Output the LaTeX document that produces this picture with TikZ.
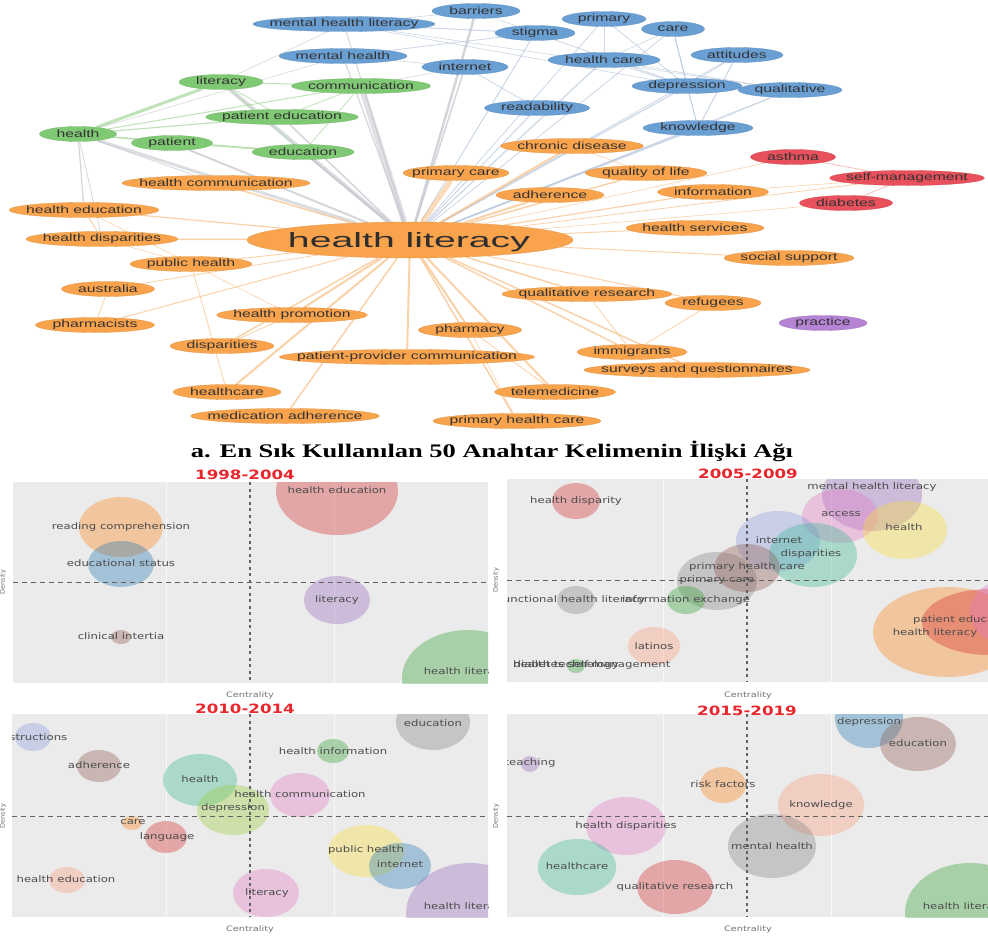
\documentclass[tikz,border=0pt]{standalone}
\usepackage{fontspec}
\usepackage{graphicx}
\usetikzlibrary{shapes.geometric}
\newfontfamily\netfont[FakeStretch=1.5]{Liberation Sans}
\newfontfamily\hlfont{Liberation Sans}
\newfontfamily\bubfont[FakeStretch=1.3]{DejaVu Sans}
\newfontfamily\axrfont{DejaVu Sans}
\newfontfamily\ttlfont[FakeStretch=1.38]{Liberation Serif}
\pgfdeclarelayer{bg}
\pgfsetlayers{bg,main}
\definecolor{nblue}{HTML}{6A9FD4}
\definecolor{ngreen}{HTML}{80C974}
\definecolor{norange}{HTML}{F9A34C}
\definecolor{nred}{HTML}{E8505B}
\definecolor{npurple}{HTML}{B583D3}
\definecolor{egray}{HTML}{B9BCC4}
\definecolor{eblue}{HTML}{A9BCD6}
\definecolor{eorange}{HTML}{F8BF86}
\definecolor{egreen}{HTML}{A6D69A}
\definecolor{ered}{HTML}{F0A0A0}
\definecolor{panelbg}{HTML}{EBEBEB}
\definecolor{tred}{HTML}{D62728}
\definecolor{torange}{HTML}{FF7F0E}
\definecolor{tblue}{HTML}{1F77B4}
\definecolor{tpurple}{HTML}{9467BD}
\definecolor{tgreen}{HTML}{2CA02C}
\definecolor{tbrown}{HTML}{8C564B}
\definecolor{tpink}{HTML}{E377C2}
\definecolor{tgray}{HTML}{7F7F7F}
\definecolor{tyellow}{HTML}{FFDD33}
\definecolor{tmint}{HTML}{33B893}
\definecolor{tlav}{HTML}{8899DD}
\definecolor{tsalmon}{HTML}{FF9977}
\definecolor{tlime}{HTML}{99CC33}
\definecolor{yearred}{HTML}{E8262B}
\tikzset{
  kw/.style={ellipse, inner sep=0pt, minimum height=15pt, line width=.3pt},
  kwt/.style={font=\netfont\fontsize{10.5}{12}\selectfont, text=black!80, inner sep=0pt},
  eg/.style={draw=egray, draw opacity=.6},
  eb/.style={draw=eblue, draw opacity=.6},
  eo/.style={draw=eorange, draw opacity=.7},
  egr/.style={draw=egreen, draw opacity=.7},
  er/.style={draw=ered, draw opacity=.7},
  bt/.style={font=\bubfont\fontsize{9}{10}\selectfont, text=black!70, inner sep=0pt},
  axl/.style={font=\bubfont\fontsize{7.5}{9}\selectfont, text=black!55, inner sep=0pt},
  axr/.style={font=\axrfont\fontsize{6.5}{8}\selectfont, text=black!55, inner sep=0pt, rotate=90},
  yr/.style={font=\bubfont\bfseries\fontsize{12.8}{15}\selectfont, text=yearred, inner sep=0pt},
  dsh/.style={draw=black!62, line width=.9pt, dash pattern=on 5pt off 4pt},
  dshv/.style={draw=black!62, line width=1.1pt, dash pattern=on 3pt off 3.5pt},
  grd/.style={draw=white, line width=.8pt, draw opacity=.7},
}
\newcommand\kw[6]{\node[kw, fill=#5, draw=#5!90!black, minimum width=#4pt] (#1) at (#2,#3) {};
  \node[kwt] (#1t) at (#2,#3) {#6};}
\newcommand\bub[5]{\fill[#5, fill opacity=.35] (#1,#2) ellipse [x radius=#3pt, y radius=#4pt];}
\begin{document}
\begin{tikzpicture}[x=1pt,y=-1pt]
\useasboundingbox (0,0) rectangle (988,937);
% ---------------- network nodes ----------------
\kw{mhl}{344}{24}{182}{nblue}{mental health literacy}
\kw{bar}{476}{11}{88}{nblue}{barriers}
\kw{stig}{535}{33}{80}{nblue}{stigma}
\kw{prim}{604}{19}{84}{nblue}{primary}
\kw{care}{673}{29}{63}{nblue}{care}
\kw{mh}{343}{56}{128}{nblue}{mental health}
\kw{inet}{465}{67}{86}{nblue}{internet}
\kw{hcare}{604}{60}{112}{nblue}{health care}
\kw{att}{737}{55}{92}{nblue}{attitudes}
\kw{dep}{687}{86}{110}{nblue}{depression}
\kw{qual}{790}{90}{104}{nblue}{qualitative}
\kw{read}{537}{108}{105}{nblue}{readability}
\kw{know}{698}{128}{110}{nblue}{knowledge}
\kw{lit}{221}{82}{84}{ngreen}{literacy}
\kw{comm}{361}{86}{139}{ngreen}{communication}
\kw{pated}{282}{117}{153}{ngreen}{patient education}
\kw{hlth}{78}{134}{77}{ngreen}{health}
\kw{pat}{172}{143}{81}{ngreen}{patient}
\kw{edu}{303}{152}{102}{ngreen}{education}
\kw{pc}{456}{173}{106}{norange}{primary care}
\kw{hcom}{216}{183}{188}{norange}{health communication}
\kw{hed}{84}{210}{150}{norange}{health education}
\kw{chd}{572}{146}{143}{norange}{chronic disease}
\kw{qol}{646}{173}{122}{norange}{quality of life}
\kw{adh}{550}{195}{108}{norange}{adherence}
\kw{info}{713}{192}{111}{norange}{information}
\kw{hdis}{102}{239}{152}{norange}{health disparities}
\kw{pubh}{191}{264}{122}{norange}{public health}
\kw{aus}{108}{289}{93}{norange}{australia}
\kw{pharm}{95}{325}{119}{norange}{pharmacists}
\kw{hpro}{292}{315}{151}{norange}{health promotion}
\kw{disp}{222}{346}{104}{norange}{disparities}
\kw{ppc}{407}{357}{255}{norange}{patient-provider communication}
\kw{hc}{227}{392}{108}{norange}{healthcare}
\kw{medadh}{285}{416}{189}{norange}{medication adherence}
\kw{phy}{470}{330}{103}{norange}{pharmacy}
\kw{phc}{517}{421}{168}{norange}{primary health care}
\kw{tele}{555}{392}{121}{norange}{telemedicine}
\kw{imm}{632}{352}{110}{norange}{immigrants}
\kw{surv}{697}{370}{226}{norange}{surveys and questionnaires}
\kw{qres}{587}{294}{170}{norange}{qualitative research}
\kw{ref}{713}{303}{96}{norange}{refugees}
\kw{hserv}{695}{228}{138}{norange}{health services}
\kw{soc}{789}{258}{130}{norange}{social support}
\kw{asth}{793}{157}{85}{nred}{asthma}
\kw{selfm}{907}{178}{155}{nred}{self-management}
\kw{diab}{846}{203}{93}{nred}{diabetes}
\kw{prac}{823}{323}{88}{npurple}{practice}
\node[kw, fill=norange, draw=norange!90!black, minimum width=326pt, minimum height=36pt] (hl) at (410,240) {};
\node[inner sep=0pt, anchor=base, text=black!82] (hlt) at (409,247) {\resizebox{242pt}{15pt}{\hlfont health literacy}};
% ---------------- network edges ----------------
\begin{pgfonlayer}{bg}
\fill[white] (0,0) rectangle (988,937);
\draw[eg, line width=6pt, draw opacity=.45] (hl) -- (comm);
\draw[eg, line width=4pt, draw opacity=.5] (hl) -- (lit);
\draw[eg, line width=3pt, draw opacity=.5] (hl) -- (hlth);
\draw[eg, line width=2.5pt] (hl) -- (bar);
\draw[eg, line width=1.2pt] (hl) -- (mh);
\draw[eg, line width=1.5pt] (hl) -- (inet);
\draw[eg, line width=1pt] (hl) -- (mhl);
\draw[eb, line width=1pt] (hl) -- (stig);
\draw[eb, line width=1.2pt] (hl) -- (hcare);
\draw[eb, line width=.8pt] (hl) -- (prim);
\draw[eb, line width=.8pt] (hl) -- (care);
\draw[eb, line width=1.2pt] (hl) -- (dep);
\draw[eb, line width=1.8pt] (hl) -- (know);
\draw[eb, line width=1pt] (hl) -- (read);
\draw[eb, line width=.8pt] (hl) -- (att);
\draw[eb, line width=.8pt] (hl) -- (qual);
\draw[eg, line width=1.5pt] (hl) -- (pated);
\draw[eg, line width=2pt] (hl) -- (pat);
\draw[eg, line width=1.5pt] (hl) -- (edu);
\draw[eo, line width=5pt, draw opacity=.55] (hl) -- (pc);
\draw[eo, line width=2pt] (hl) -- (chd);
\draw[eo, line width=2pt] (hl) -- (adh);
\draw[eo, line width=1.5pt] (hl) -- (qol);
\draw[eo, line width=1.2pt] (hl) -- (info);
\draw[eo, line width=1.5pt] (hl) -- (hcom);
\draw[eo, line width=1.2pt] (hl) -- (hed);
\draw[eo, line width=1.5pt] (hl) -- (hdis);
\draw[eo, line width=1pt] (hl) -- (pubh);
\draw[eo, line width=.8pt] (hl) -- (aus);
\draw[eo, line width=1pt] (hl) -- (pharm);
\draw[eo, line width=2pt] (hl) -- (hpro);
\draw[eo, line width=1.5pt] (hl) -- (disp);
\draw[eo, line width=2pt] (hl) -- (ppc);
\draw[eo, line width=2pt] (hl) -- (hc);
\draw[eo, line width=1.5pt] (hl) -- (medadh);
\draw[eo, line width=2pt] (hl) -- (phy);
\draw[eo, line width=1.5pt] (hl) -- (phc);
\draw[eo, line width=2pt] (hl) -- (tele);
\draw[eo, line width=1.5pt] (hl) -- (imm);
\draw[eo, line width=1.5pt] (hl) -- (surv);
\draw[eo, line width=1.5pt] (hl) -- (qres);
\draw[eo, line width=1pt] (hl) -- (ref);
\draw[eo, line width=1pt] (hl) -- (hserv);
\draw[eo, line width=1pt] (hl) -- (soc);
\draw[eo, line width=.8pt] (hl) -- (selfm);
\draw[eo, line width=.6pt] (hl) -- (asth);
\draw[eo, line width=.6pt] (hl) -- (diab);
% green cluster
\draw[egr, line width=3pt] (hlth) -- (lit);
\draw[egr, line width=1.2pt] (hlth) -- (pated);
\draw[egr, line width=1pt] (hlth) -- (comm);
\draw[egr, line width=1pt] (hlth) -- (pat);
\draw[egr, line width=1pt] (hlth) -- (edu);
\draw[egr, line width=1pt] (lit) -- (comm);
\draw[egr, line width=.8pt] (lit) -- (pated);
\draw[egr, line width=1.2pt] (pat) -- (edu);
\draw[egr, line width=.8pt] (pated) -- (comm);
\draw[egr, line width=.8pt] (comm) -- (edu);
\draw[egr, line width=.8pt] (lit) -- (edu);
\draw[eg, line width=1.2pt] (hlth) -- (hed);
\draw[eg, line width=.8pt] (hlth) -- (hdis);
\draw[eg, line width=.8pt] (hlth) -- (hcom);
\draw[eg, line width=.6pt] (hlth) -- (mh);
\draw[eg, line width=.6pt] (lit) -- (mhl);
\draw[eg, line width=.6pt] (comm) -- (inet);
% blue cluster
\draw[eb, line width=1pt] (prim) -- (hcare);
\draw[eb, line width=.8pt] (prim) -- (dep);
\draw[eb, line width=1pt] (care) -- (dep);
\draw[eb, line width=.6pt] (care) -- (hcare);
\draw[eb, line width=1pt] (stig) -- (mhl);
\draw[eb, line width=.8pt] (stig) -- (mh);
\draw[eb, line width=.8pt] (stig) -- (dep);
\draw[eb, line width=.6pt] (mhl) -- (dep);
\draw[eb, line width=.6pt] (mhl) -- (qual);
\draw[eb, line width=.8pt] (hcare) -- (dep);
\draw[eb, line width=.6pt] (hcare) -- (qual);
\draw[eb, line width=1pt] (dep) -- (qual);
\draw[eb, line width=.8pt] (dep) -- (know);
\draw[eb, line width=1pt] (att) -- (know);
\draw[eb, line width=.6pt] (att) -- (dep);
\draw[eb, line width=.6pt] (care) -- (know);
\draw[eb, line width=.8pt] (inet) -- (read);
\draw[eb, line width=.6pt] (bar) -- (stig);
\draw[eb, line width=.6pt] (bar) -- (mhl);
\draw[eb, line width=.6pt] (mh) -- (inet);
\draw[eb, line width=.6pt] (know) -- (qual);
% orange cluster
\draw[eo, line width=1pt] (hed) -- (hdis);
\draw[eo, line width=.8pt] (pubh) -- (hc);
\draw[eo, line width=.8pt] (aus) -- (pharm);
\draw[eo, line width=.8pt] (hpro) -- (disp);
\draw[eo, line width=.8pt] (qres) -- (imm);
\draw[eo, line width=.8pt] (ref) -- (imm);
\draw[eo, line width=.6pt] (pubh) -- (hpro);
\draw[eo, line width=.8pt] (phy) -- (tele);
\draw[eo, line width=.6pt] (hed) -- (pubh);
\draw[eo, line width=.6pt] (phy) -- (phc);
\draw[eo, line width=.6pt] (qol) -- (chd);
\draw[eo, line width=.6pt] (info) -- (selfm);
\draw[eo, line width=.6pt] (hdis) -- (pubh);
\draw[er, line width=.8pt] (asth) -- (selfm);
\draw[er, line width=.8pt] (diab) -- (selfm);
\end{pgfonlayer}
% ---------------- title ----------------
\node[inner sep=0pt, anchor=base, font=\ttlfont\bfseries\fontsize{19.2}{22}\selectfont] (title) at (492,457) {a. En Sık Kullanılan 50 Anahtar Kelimenin İlişki Ağı};
% ---------------- panel 1 ----------------
\fill[panelbg] (13,482) rectangle (488,683);
\draw[grd] (166,482) -- (166,683); \draw[grd] (334,482) -- (334,683);
\begin{scope}
\clip (13,482) rectangle (488,683);
\bub{337}{491}{61}{44}{tred}
\bub{121}{527}{42}{30}{torange}
\bub{121}{564}{33}{23}{tblue}
\bub{121}{637}{10}{7}{tbrown}
\bub{337}{600}{33}{24}{tpurple}
\bub{468}{678}{66}{48}{tgreen}
\draw[dshv] (250,482) -- (250,683);
\draw[dsh] (13,582) -- (488,582);
\node[bt] (a1) at (121,527) {reading comprehension};
\node[bt] (a2) at (121,563) {educational status};
\node[bt] (a3) at (121,636) {clinical intertia};
\node[bt] (a4) at (337,490) {health education};
\node[bt] (a5) at (337,600) {literacy};
\node[bt] (a6) at (466,672) {health literacy};
\end{scope}
\node[yr] (y1) at (245,475) {1998-2004};
\node[axl] (c1) at (250,695) {Centrality};
\node[axr] (d1) at (3,582) {Density};
% ---------------- panel 2 ----------------
\fill[panelbg] (507,479) rectangle (988,682);
\draw[grd] (663,479) -- (663,682); \draw[grd] (831,479) -- (831,682);
\begin{scope}
\clip (507,479) rectangle (988,682);
\bub{576}{501}{24}{18}{tred}
\bub{872}{495}{50}{36}{tpurple}
\bub{840}{516}{38}{27}{tpink}
\bub{905}{530}{42}{29}{tyellow}
\bub{778}{541}{42}{30}{tlav}
\bub{813}{555}{44}{32}{tmint}
\bub{717}{581}{40}{29}{tgray}
\bub{747}{568}{33}{24}{tbrown}
\bub{576}{600}{19}{14}{tgray}
\bub{686}{600}{19}{14}{tgreen}
\bub{654}{646}{26}{19}{tsalmon}
\bub{576}{666}{9}{7}{tgreen}
\bub{947}{632}{74}{45}{torange}
\bub{990}{622}{68}{33}{tred}
\bub{1012}{612}{42}{34}{tpink}
\draw[dshv] (747,479) -- (747,682);
\draw[dsh] (507,580) -- (988,580);
\node[bt] (b1) at (576,501) {health disparity};
\node[bt] (b2) at (872,487) {mental health literacy};
\node[bt] (b3) at (841,514) {access};
\node[bt] (b4) at (904,527) {health};
\node[bt] (b5) at (779,540) {internet};
\node[bt] (b6) at (811,554) {disparities};
\node[bt] (b7) at (747,567) {primary health care};
\node[bt] (b8) at (717,580) {primary care};
\node[bt] (b9) at (572,600) {functional health literacy};
\node[bt] (b10) at (686,600) {information exchange};
\node[bt] (b11) at (654,646) {latinos};
\node[bt] (b12) at (592,665) {diabetes self-management};
\node[bt] (b13) at (566,665) {health technology};
\node[bt, anchor=west] (b14) at (913,620) {patient education};
\node[bt] (b15) at (935,633) {health literacy};
\end{scope}
\node[yr] (y2) at (748,474) {2005-2009};
\node[axl] (c2) at (748,695) {Centrality};
\node[axr] (d2) at (496,580) {Density};
% ---------------- panel 3 ----------------
\fill[panelbg] (12,714) rectangle (488,917);
\draw[grd] (166,714) -- (166,917); \draw[grd] (334,714) -- (334,917);
\begin{scope}
\clip (12,714) rectangle (488,917);
\bub{33}{737}{18}{14}{tlav}
\bub{433}{722}{37}{28}{tgray}
\bub{333}{751}{16}{12}{tgreen}
\bub{99}{766}{22}{16}{tbrown}
\bub{200}{780}{37}{26}{tmint}
\bub{233}{810}{36}{25}{tlime}
\bub{300}{795}{30}{22}{tpink}
\bub{132}{823}{10}{7}{torange}
\bub{166}{837}{21}{16}{tred}
\bub{67}{880}{18}{13}{tsalmon}
\bub{366}{851}{38}{26}{tyellow}
\bub{400}{866}{31}{23}{tblue}
\bub{266}{893}{33}{24}{tpink}
\bub{470}{913}{64}{50}{tpurple}
\draw[dshv] (250,714) -- (250,917);
\draw[dsh] (12,816) -- (488,816);
\node[bt] (e1) at (33,737) {instructions};
\node[bt] (e2) at (433,723) {education};
\node[bt] (e3) at (333,751) {health information};
\node[bt] (e4) at (99,765) {adherence};
\node[bt] (e5) at (200,779) {health};
\node[bt] (e6) at (233,808) {depression};
\node[bt] (e7) at (300,794) {health communication};
\node[bt] (e8) at (133,822) {care};
\node[bt] (e9) at (167,837) {language};
\node[bt] (e10) at (66,879) {health education};
\node[bt] (e11) at (366,850) {public health};
\node[bt] (e12) at (400,864) {internet};
\node[bt] (e13) at (267,893) {literacy};
\node[bt] (e14) at (466,907) {health literacy};
\end{scope}
\node[yr] (y3) at (245,709) {2010-2014};
\node[axl] (c3) at (250,929) {Centrality};
\node[axr] (d3) at (3,816) {Density};
% ---------------- panel 4 ----------------
\fill[panelbg] (507,714) rectangle (988,917);
\draw[grd] (663,714) -- (663,917); \draw[grd] (831,714) -- (831,917);
\begin{scope}
\clip (507,714) rectangle (988,917);
\bub{530}{764}{9}{8}{tpurple}
\bub{869}{718}{34}{30}{tblue}
\bub{918}{744}{38}{27}{tbrown}
\bub{723}{785}{23}{18}{torange}
\bub{821}{805}{43}{31}{tsalmon}
\bub{626}{826}{40}{29}{tpink}
\bub{772}{846}{44}{32}{tgray}
\bub{577}{867}{39}{28}{tmint}
\bub{675}{887}{38}{27}{tred}
\bub{970}{913}{65}{50}{tgreen}
\draw[dshv] (747,714) -- (747,917);
\draw[dsh] (507,816) -- (988,816);
\node[bt] (f1) at (530,763) {teaching};
\node[bt] (f2) at (869,722) {depression};
\node[bt] (f3) at (918,743) {education};
\node[bt] (f4) at (723,784) {risk factors};
\node[bt] (f5) at (821,805) {knowledge};
\node[bt] (f6) at (626,826) {health disparities};
\node[bt] (f7) at (772,846) {mental health};
\node[bt] (f8) at (577,866) {healthcare};
\node[bt] (f9) at (675,887) {qualitative research};
\node[bt] (f10) at (965,907) {health literacy};
\end{scope}
\node[yr] (y4) at (747,711) {2015-2019};
\node[axl] (c4) at (748,929) {Centrality};
\node[axr] (d4) at (496,816) {Density};
\end{tikzpicture}
\end{document}
